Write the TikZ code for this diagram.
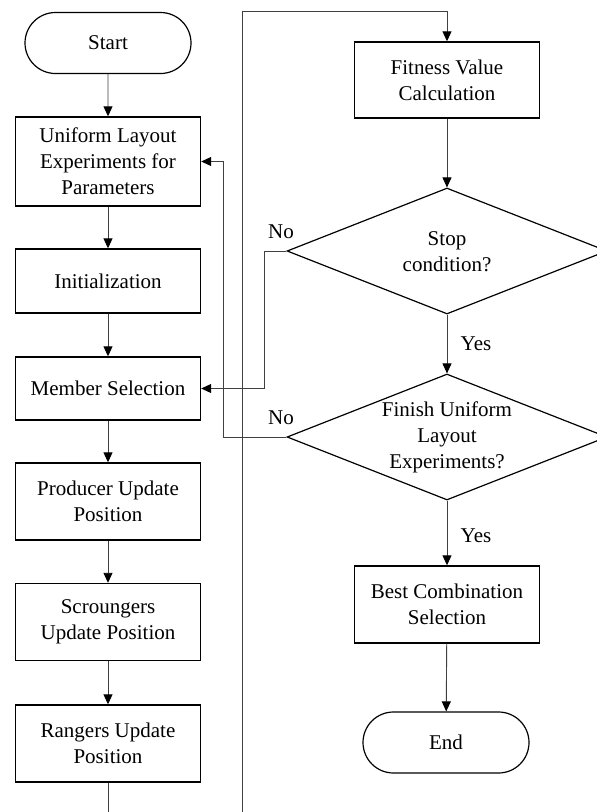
\documentclass[tikz,border=0pt]{standalone}
\usepackage{fontspec}
\setmainfont{Liberation Serif}
\usetikzlibrary{arrows.meta,shapes.geometric,shapes.misc}
\begin{document}
\begin{tikzpicture}[x=1pt,y=-1pt,
  every node/.style={font=\fontsize{21}{26}\selectfont},
  procbox/.style={draw=black,line width=1.4pt,rectangle,minimum width=185pt,align=center,inner sep=0pt},
  term/.style={draw=black,line width=1.2pt,rounded rectangle,minimum width=166pt,minimum height=61pt,inner sep=0pt},
  decision/.style={draw=black,line width=1.2pt,diamond,minimum width=320pt,minimum height=126pt,inner sep=0pt},
  lbl/.style={align=center,inner sep=0pt},
  conn/.style={draw=black!75,line width=0.9pt},
  arr/.style={conn,-{Triangle[length=10pt,width=9pt,fill=black,color=black]}}
]
\useasboundingbox (0,0) rectangle (597,812);
\clip (0,0) rectangle (597,812);
\fill[white] (0,0) rectangle (597,812);

% left column
\node[term] (start) at (108,43) {Start};
\node[procbox,minimum height=89pt] (uni) at (108,161.5) {Uniform Layout\\Experiments for\\Parameters};
\node[procbox,minimum height=64pt] (init) at (108,281) {Initialization};
\node[procbox,minimum height=63pt] (member) at (108,388.5) {Member Selection};
\node[procbox,minimum height=77pt] (prod) at (108,501.5) {Producer Update\\Position};
\node[procbox,minimum height=77pt] (scr) at (108,622) {Scroungers\\Update Position};
\node[procbox,minimum height=77pt] (rang) at (108,743.5) {Rangers Update\\Position};

% right column
\node[procbox,minimum height=76pt] (fit) at (447,80) {Fitness Value\\Calculation};
\node[decision] (stop) at (447,251) {};
\node[lbl] (stoptxt) at (447,252) {Stop\\condition?};
\node[decision] (fin) at (447,437) {};
\node[lbl] (fintxt) at (447,437) {Finish Uniform\\Layout\\Experiments?};
\node[procbox,minimum height=77pt] (best) at (447,604.5) {Best Combination\\Selection};
\node[term] (end) at (446,742.5) {End};

% labels
\node[lbl] (no1) at (281,232) {No};
\node[lbl] (no2) at (281,418) {No};
\node[lbl] (yes1) at (476,344) {Yes};
\node[lbl] (yes2) at (476,536) {Yes};

% coordinates for loose ends
\coordinate (botL) at (108,812);
\coordinate (botR) at (242,812);
\coordinate (topR) at (242,11);

% connectors
\draw[arr] (start) -- (uni);
\draw[arr] (uni) -- (init);
\draw[arr] (init) -- (member);
\draw[arr] (member) -- (prod);
\draw[arr] (prod) -- (scr);
\draw[arr] (scr) -- (rang);
\draw[conn] (rang.south) -- (botL);
\draw[arr] (botR) -- (topR) -| (fit.north);
\draw[arr] (fit) -- (stop.north);
\draw[arr] (stop.south) -- (fin.north);
\draw[arr] (fin.south) -- (best.north);
\draw[arr] (best) -- (end);
\draw[arr] (stop.west) -- ++(-22,0) |- (member.east);
\draw[arr] (fin.west) -- ++(-63,0) |- (uni.east);
\end{tikzpicture}
\end{document}
